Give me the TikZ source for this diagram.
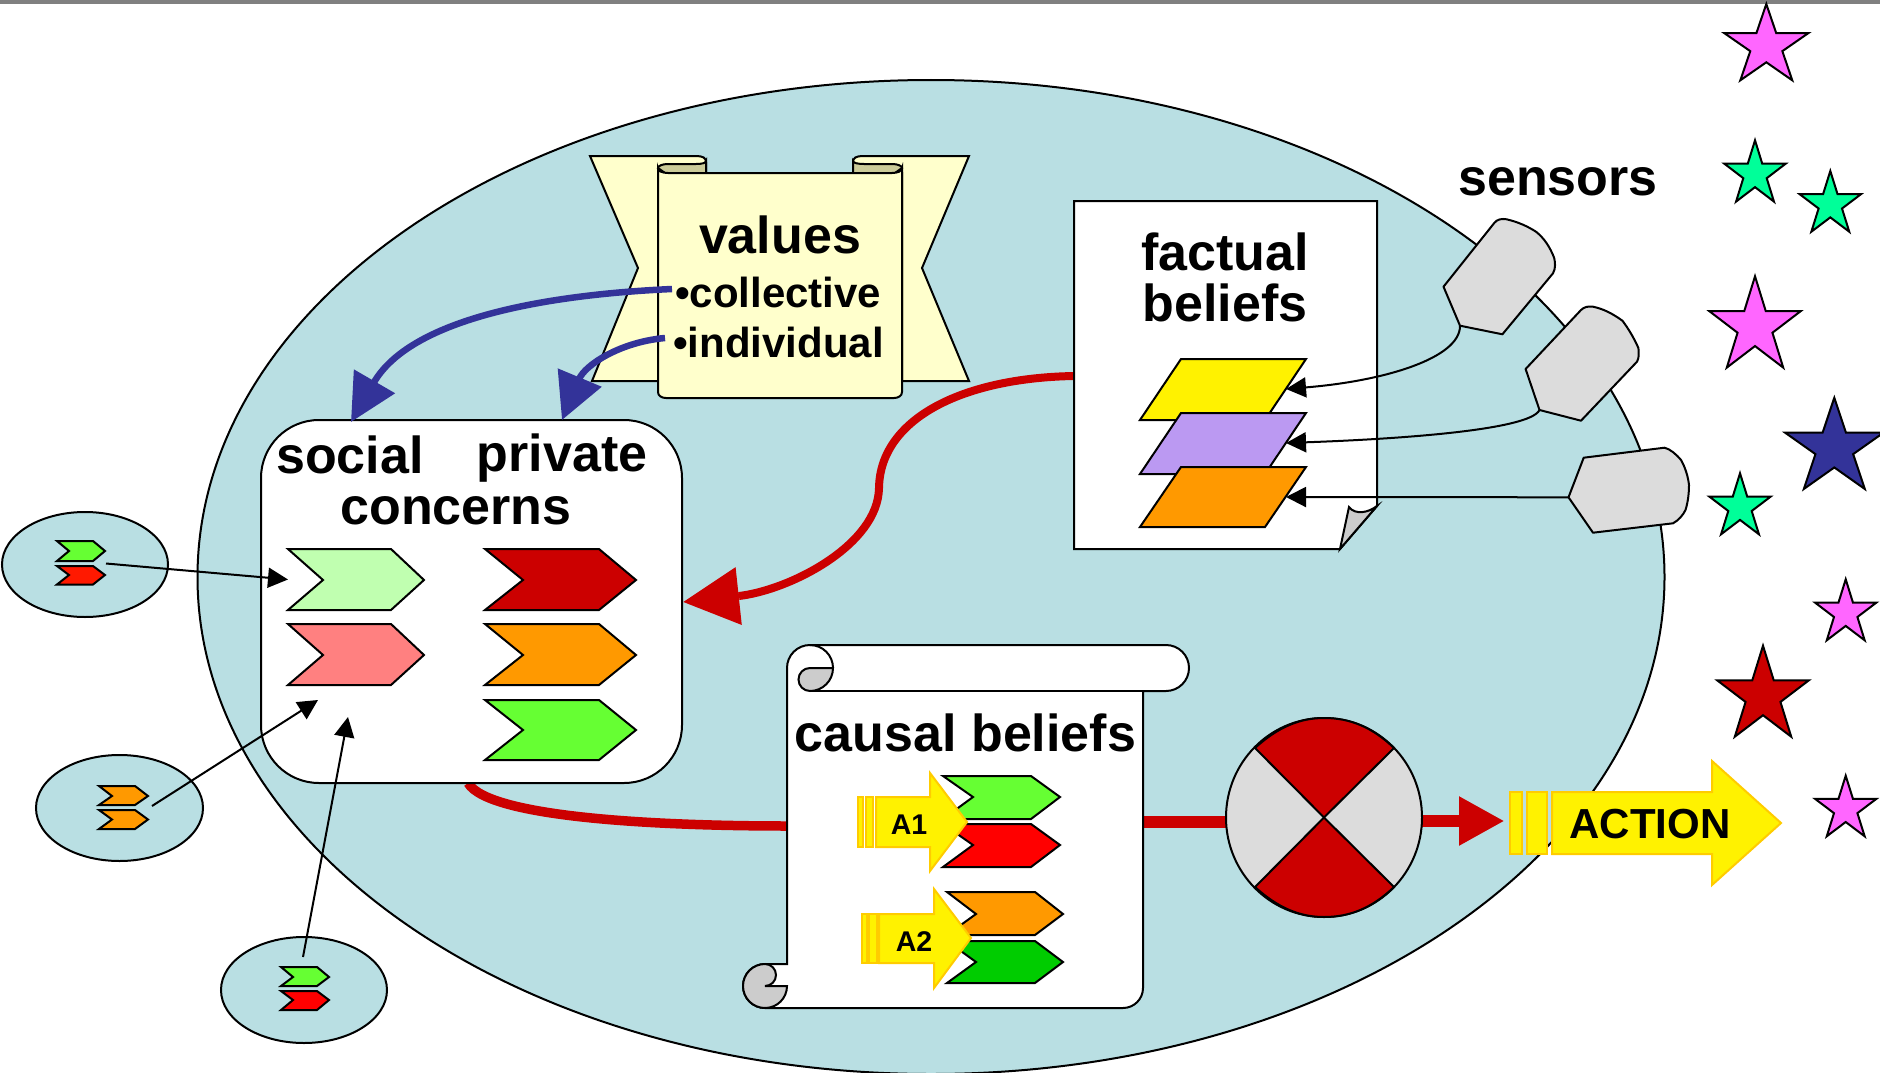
\documentclass[tikz,border=0pt]{standalone}
\usepackage{fontspec}
\setmainfont{Liberation Sans}
\usetikzlibrary{arrows.meta,shapes.geometric}
\definecolor{agentbg}{HTML}{B9DFE3}
\definecolor{valfill}{HTML}{FFFFCC}
\definecolor{curlfill}{HTML}{CCCC99}
\definecolor{grayfill}{HTML}{DCDCDC}
\definecolor{curlgray}{HTML}{CCCCCC}
\definecolor{redd}{HTML}{CC0000}
\definecolor{bluee}{HTML}{333399}
\definecolor{orangee}{HTML}{FF9900}
\definecolor{lgreen}{HTML}{66FF33}
\definecolor{paleg}{HTML}{C0FFB0}
\definecolor{pink}{HTML}{FF8080}
\definecolor{purp}{HTML}{BB99F2}
\definecolor{magen}{HTML}{FF66FF}
\definecolor{starg}{HTML}{00FF99}
\definecolor{amber}{HTML}{FFCC00}
\definecolor{topbar}{HTML}{808080}
\tikzset{
  ln/.style={draw=black,line width=2pt,line join=miter},
  ptr/.style={draw=black,line width=2pt,-{Triangle[length=20pt,width=20pt]}},
  bigtxt/.style={font=\bfseries\fontsize{52}{52}\selectfont,anchor=base,inner sep=0pt},
  midtxt/.style={font=\bfseries\fontsize{42}{42}\selectfont,anchor=base,inner sep=0pt},
  smalltxt/.style={font=\bfseries\fontsize{28.5}{28.5}\selectfont,anchor=base,inner sep=0pt},
  blob/.style={ellipse,draw=black,line width=2pt,fill=agentbg,inner sep=0pt,outer sep=0pt},
  yel/.style={draw=amber,line width=2pt,fill=yellow,line join=miter},
  sens/.style={draw=black,line width=2pt,fill=grayfill,line join=round},
  bluearrow/.style={draw=bluee,line width=6.5pt},
  redline/.style={draw=redd,line width=8pt}
}
\newcommand{\chev}[8]{\draw[ln,fill=#8] (#1,#5) -- (#3,#5) -- (#4,#6) -- (#3,#7) -- (#1,#7) -- (#2,#6) -- cycle;}
\newcommand{\pstar}[5]{%
  \pgfmathsetmacro{\rxx}{#3/1.902}\pgfmathsetmacro{\ryy}{#4/1.809}\pgfmathsetmacro{\cyy}{#2+\ryy}
  \begin{scope}[shift={(#1,\cyy)},xscale=\rxx,yscale=\ryy]
  \draw[ln,fill=#5] (-90:1) -- (-54:.382) -- (-18:1) -- (18:.382) -- (54:1) -- (90:.382) -- (126:1) -- (162:.382) -- (198:1) -- (234:.382) -- cycle;
  \end{scope}}
\begin{document}
\begin{tikzpicture}[x=1pt,y=-1pt]
\clip (0,0) rectangle (1880,1073);
\fill[white] (0,0) rectangle (1880,1073);
\fill[topbar] (0,0) rectangle (1880,4);

% main agent
\node[blob,minimum width=1467pt,minimum height=994pt] (agent) at (931,577) {};

% coordinates for connectors
\coordinate (factOut) at (1074,376);
\coordinate (factBend) at (879,488);
\coordinate (concIn) at (683,602);
\coordinate (concOut) at (468,783);
\coordinate (causIn) at (787,826);
\coordinate (causOut) at (1143,822);
\coordinate (dialIn) at (1226,822);
\coordinate (dialOut) at (1422,821);
\coordinate (actIn) at (1504.5,821);

% red lines under boxes
\draw[redline] (factOut) .. controls (960,378) and (880,420) .. (factBend) .. controls (878,545) and (790,590) .. (739,596);
\draw[draw=redd,line width=9.5pt] (concOut) .. controls (490,820) and (680,826) .. (causIn);
\draw[draw=redd,line width=12pt] (causOut) -- (dialIn);
\draw[draw=redd,line width=12pt,-{Triangle[length=45.5pt,width=46pt]}] (dialOut) -- (actIn);

% values scroll
\draw[ln,fill=valfill] (590,156) -- (696,156) .. controls (703,156) and (706,158) .. (706,162) -- (706,173) -- (658,173) -- (658,381) -- (592,381) -- (638,268) -- cycle;
\draw[ln,fill=valfill] (969,156) -- (863,156) .. controls (856,156) and (853,158) .. (853,162) -- (853,173) -- (902,173) -- (902,381) -- (969,381) -- (922,268) -- cycle;
\draw[ln,fill=curlfill] (658,168) .. controls (658,166) and (662,164) .. (668,164) -- (696,164) .. controls (702,164) and (706,163) .. (706,161) -- (706,173) -- (665,173) -- cycle;
\draw[ln,fill=curlfill] (902,168) .. controls (902,166) and (898,164) .. (892,164) -- (864,164) .. controls (858,164) and (853,163) .. (853,161) -- (853,173) -- (895,173) -- cycle;
\draw[ln,fill=valfill] (658,168) -- (658,392) .. controls (658,396) and (662,398) .. (666,398) -- (894,398) .. controls (898,398) and (902,396) .. (902,392) -- (902,168) .. controls (902,171) and (898,173) .. (892,173) -- (668,173) .. controls (662,173) and (658,171) .. (658,168) -- cycle;
\node[bigtxt] (tvalues) at (780,253) {values};
\node[midtxt,anchor=base west] (tcoll) at (675,307) {•collective};
\node[midtxt,anchor=base west] (tindi) at (673,357) {•individual};

% concerns box
\node[draw=black,line width=2pt,fill=white,rectangle,rounded corners=58pt,minimum width=421pt,minimum height=363pt,inner sep=0pt,outer sep=0pt] (concerns) at (471.5,601.5) {};
\node[bigtxt] (tsocial) at (350,473) {social};
\node[bigtxt] (tprivate) at (562,471) {private};
\node[bigtxt] (tconcerns) at (456,524) {concerns};
\chev{288}{323}{391}{424}{549}{580}{610}{paleg}
\chev{288}{323}{391}{424}{624}{655}{685}{pink}
\chev{485}{523}{599}{636}{549}{580}{610}{redd}
\chev{485}{523}{599}{636}{624}{655}{685}{orangee}
\chev{485}{523}{599}{636}{700}{730}{760}{lgreen}

% blue arrows
\coordinate (valA) at (672,289);
\coordinate (valB) at (665,338);
\coordinate (socIn) at (351,422);
\coordinate (priIn) at (562,420);
\draw[bluearrow,-{Triangle[length=47pt,width=46pt]}] (valA) .. controls (540,295) and (410,320) .. (socIn);
\draw[bluearrow,-{Triangle[length=46pt,width=46pt]}] (valB) .. controls (620,342) and (585,365) .. (priIn);

% red arrow head into concerns
\coordinate (headBase) at (739,596);
\draw[draw=redd,line width=8pt,-{Triangle[length=56pt,width=56pt]}] (headBase) -- (concIn);

% factual beliefs
\draw[ln,fill=white] (1074,201) -- (1377,201) -- (1377,506) -- (1340,549) -- (1074,549) -- cycle;
\draw[ln,fill=curlgray] (1340,549) -- (1349,507) .. controls (1355,515) and (1368,513) .. (1377,506) -- cycle;
\node[bigtxt] (tfact) at (1225,270) {factual};
\node[bigtxt] (tbel) at (1225,321) {beliefs};
\draw[ln,fill=yellow] (1181,359) -- (1306,359) -- (1265,420) -- (1140,420) -- cycle;
\draw[ln,fill=purp] (1181,413) -- (1306,413) -- (1265,474) -- (1140,474) -- cycle;
\draw[ln,fill=orangee] (1181,467) -- (1306,467) -- (1265,527) -- (1140,527) -- cycle;

% sensors
\draw[sens] (1443.5,286.7) -- (1460,325.7) -- (1502.4,334.3) -- (1553,273.3) .. controls (1556,268) and (1555,262) .. (1554.2,258) .. controls (1550,247) and (1544,238) .. (1536,231.7) .. controls (1527,226) and (1518,222) .. (1506.6,219.3) .. controls (1502,218.5) and (1497,219) .. (1494,223.3) -- cycle;
\draw[sens] (1525.6,369) -- (1539.5,410) -- (1581,420.7) -- (1637,361.7) .. controls (1639,358) and (1639,354) .. (1638.4,348) .. controls (1634,338) and (1628,328) .. (1622.4,320.7) .. controls (1613,314) and (1604,309) .. (1593,306.7) .. controls (1588,306) and (1584,307) .. (1581,310) -- cycle;
\draw[sens] (1568.5,497.3) -- (1593,532.7) -- (1673,523.3) .. controls (1679,520) and (1683,515) .. (1685.5,510) .. controls (1688,502) and (1689,493) .. (1689,485) .. controls (1688,476) and (1685,467) .. (1681,460) .. controls (1676,454) and (1670,449) .. (1664.5,447.7) -- (1583.7,457.7) -- cycle;
\coordinate (s1) at (1460,326);
\coordinate (s2) at (1539.5,410);
\coordinate (s3) at (1568.5,497.3);
\coordinate (p1) at (1286,389);
\coordinate (p2) at (1286,443);
\coordinate (p3) at (1286,497);
\draw[ptr] (s1) .. controls (1460,358) and (1385,381) .. (p1);
\draw[ptr] (s2) .. controls (1530,430) and (1400,439) .. (p2);
\draw[ptr] (s3) -- (p3);
\node[bigtxt] (tsens) at (1558,195) {sensors};

% causal beliefs
\draw[ln,fill=white] (810,645) -- (1166,645) arc[start angle=270,end angle=450,radius=23] -- (1143,691) -- (1143,988) arc[start angle=0,end angle=90,radius=20] -- (765,1008) arc[start angle=90,end angle=270,radius=22] -- (787,964) -- (787,668) arc[start angle=180,end angle=270,radius=23] -- cycle;
\draw[ln] (1166,691) -- (810,691);
\draw[ln] (810,645) arc[start angle=-90,end angle=0,radius=23];
\draw[ln,fill=curlgray] (833,668) arc[start angle=0,end angle=90,radius=23] arc[start angle=90,end angle=270,radius=11.5] -- cycle;
\draw[ln,fill=curlgray] (765,986) -- (787,986) arc[start angle=0,end angle=180,radius=22] arc[start angle=180,end angle=270,radius=22] arc[start angle=-90,end angle=90,radius=11] -- cycle;
\node[bigtxt] (tcausal) at (965.5,751) {causal beliefs};
\chev{943}{973}{1031}{1060}{776}{797}{819}{lgreen}
\chev{943}{973}{1031}{1060}{824}{845}{867}{red}
\chev{947}{976}{1035}{1063}{892}{914}{935}{orangee}
\chev{947}{976}{1035}{1063}{941}{962}{983}{green!80!black}
\draw[yel] (858,797) rectangle (863,847);
\draw[yel] (866,797) rectangle (873,847);
\draw[yel] (876,797) -- (930,797) -- (930,773) -- (967,822) -- (930,871) -- (930,847) -- (876,847) -- cycle;
\node[smalltxt] (ta1) at (909,834) {A1};
\draw[yel] (862,914) rectangle (867,963);
\draw[yel] (869,914) rectangle (877,963);
\draw[yel] (879,914) -- (934,914) -- (934,889) -- (971,938) -- (934,988) -- (934,963) -- (879,963) -- cycle;
\node[smalltxt] (ta2) at (914,951) {A2};

% dial
\node[ellipse,draw=black,line width=2pt,fill=grayfill,minimum width=196pt,minimum height=199pt,inner sep=0pt,outer sep=0pt] (dial) at (1324,817.5) {};
\draw[ln,fill=redd] (1324,817.5) -- (1255,748) .. controls (1278,727) and (1300,718) .. (1324,718) .. controls (1350,718) and (1372,727) .. (1394,748) -- cycle;
\draw[ln,fill=redd] (1324,817.5) -- (1255,887) .. controls (1278,908) and (1300,917) .. (1324,917) .. controls (1350,917) and (1372,908) .. (1394,887) -- cycle;

% action arrow
\draw[yel] (1510,792) rectangle (1522,854);
\draw[yel] (1527,792) rectangle (1547,854);
\draw[yel] (1552,792) -- (1712,792) -- (1712,761) -- (1781,823) -- (1712,885) -- (1712,854) -- (1552,854) -- cycle;
\node[midtxt] (tact) at (1650,838) {ACTION};

% external agents
\node[blob,minimum width=166pt,minimum height=105pt] (e1) at (85,564.5) {};
\node[blob,minimum width=167pt,minimum height=106pt] (e2) at (119.5,808) {};
\node[blob,minimum width=166pt,minimum height=106pt] (e3) at (304,990) {};
\chev{57}{69}{93}{105}{541}{551}{561}{lgreen}
\chev{57}{69}{93}{105}{566}{575}{584.5}{red!80!orange}
\chev{99}{112}{135}{148}{786}{796}{805}{orangee}
\chev{99}{112}{135}{148}{810}{819.5}{829}{orangee}
\chev{281}{293}{317}{329}{967}{977}{986}{lgreen}
\chev{281}{293}{317}{329}{991}{1000}{1010}{red}
\coordinate (f1) at (106,563.5);
\coordinate (f2) at (152,806);
\coordinate (f3) at (303,957);
\coordinate (g1) at (288,579.5);
\coordinate (g2) at (318,700);
\coordinate (g3) at (348,717);
\draw[ptr] (f1) -- (g1);
\draw[ptr] (f2) -- (g2);
\draw[ptr] (f3) -- (g3);

% stars
\pstar{1766.3}{4}{84}{76.3}{magen}
\pstar{1755}{140.3}{61.3}{61.3}{starg}
\pstar{1830.3}{171}{61.3}{60.7}{starg}
\pstar{1755}{276.3}{91.3}{91.3}{magen}
\pstar{1834.3}{397.7}{98.7}{91.3}{bluee}
\pstar{1740}{473.3}{61.3}{61}{starg}
\pstar{1845.7}{579.3}{61.3}{61}{magen}
\pstar{1763}{645.7}{91.3}{91}{redd}
\pstar{1845.7}{775.7}{61.3}{60.6}{magen}
\end{tikzpicture}
\end{document}
